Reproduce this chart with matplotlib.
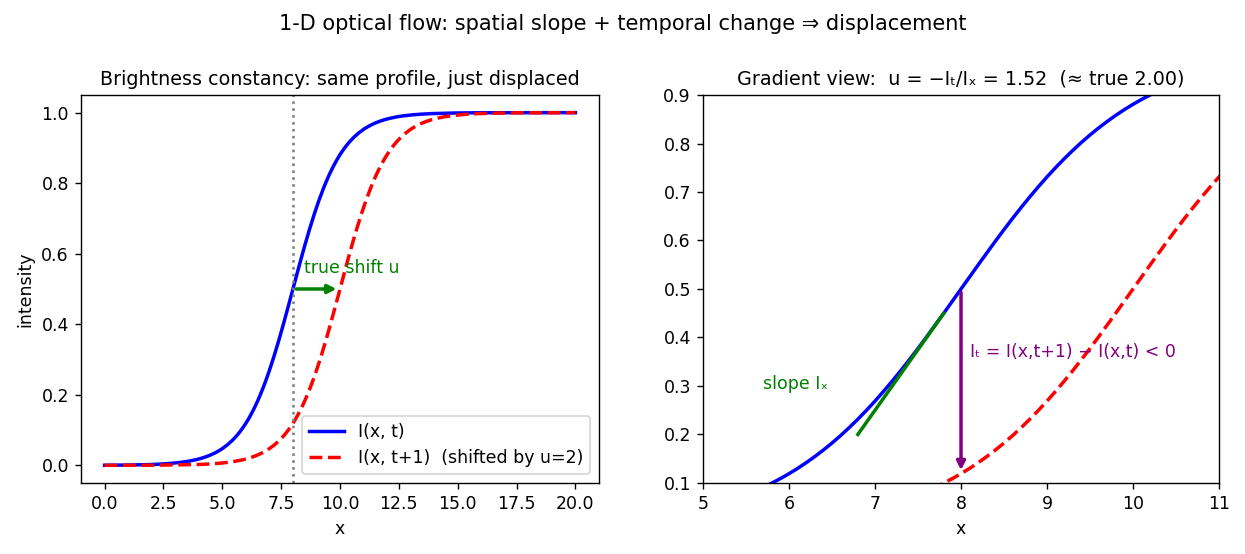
import matplotlib
matplotlib.use("Agg")
import matplotlib.pyplot as plt

# x grid (step 0.1 from 0 to 20)
x_vals = [round(i * 0.1, 1) for i in range(201)]

# I(x, t): intensity profile (half height at x = 8)
I_t = [
    0.0003, 0.0004, 0.0004, 0.0005, 0.0005, 0.0006, 0.0006, 0.0007, 0.0007, 0.0008,
    0.0009, 0.0010, 0.0011, 0.0012, 0.0014, 0.0015, 0.0017, 0.0018, 0.0020, 0.0022,
    0.0025, 0.0027, 0.0030, 0.0033, 0.0037, 0.0041, 0.0045, 0.0050, 0.0055, 0.0061,
    0.0067, 0.0074, 0.0082, 0.0090, 0.0100, 0.0110, 0.0121, 0.0134, 0.0148, 0.0163,
    0.0180, 0.0198, 0.0219, 0.0241, 0.0266, 0.0293, 0.0323, 0.0356, 0.0392, 0.0431,
    0.0474, 0.0522, 0.0573, 0.0630, 0.0691, 0.0759, 0.0832, 0.0911, 0.0998, 0.1091,
    0.1192, 0.1301, 0.1419, 0.1545, 0.1680, 0.1824, 0.1978, 0.2142, 0.2315, 0.2497,
    0.2689, 0.2891, 0.3100, 0.3318, 0.3543, 0.3775, 0.4013, 0.4256, 0.4502, 0.4750,
    0.5000, 0.5250, 0.5498, 0.5744, 0.5987, 0.6225, 0.6457, 0.6682, 0.6900, 0.7109,
    0.7311, 0.7503, 0.7685, 0.7858, 0.8022, 0.8176, 0.8320, 0.8455, 0.8581, 0.8699,
    0.8808, 0.8909, 0.9002, 0.9089, 0.9168, 0.9241, 0.9309, 0.9370, 0.9427, 0.9478,
    0.9526, 0.9569, 0.9608, 0.9644, 0.9677, 0.9707, 0.9734, 0.9759, 0.9781, 0.9802,
    0.9820, 0.9837, 0.9852, 0.9866, 0.9879, 0.9890, 0.9900, 0.9910, 0.9918, 0.9926,
    0.9933, 0.9939, 0.9945, 0.9950, 0.9955, 0.9959, 0.9963, 0.9967, 0.9970, 0.9973,
    0.9975, 0.9978, 0.9980, 0.9982, 0.9983, 0.9985, 0.9986, 0.9988, 0.9989, 0.9990,
    0.9991, 0.9992, 0.9993, 0.9993, 0.9994, 0.9994, 0.9995, 0.9995, 0.9996, 0.9996,
    0.9997, 0.9997, 0.9997, 0.9998, 0.9998, 0.9998, 0.9998, 0.9998, 0.9998, 0.9999,
    0.9999, 0.9999, 0.9999, 0.9999, 0.9999, 0.9999, 0.9999, 0.9999, 0.9999, 0.9999,
    1.0000, 1.0000, 1.0000, 1.0000, 1.0000, 1.0000, 1.0000, 1.0000, 1.0000, 1.0000,
    1.0000, 1.0000, 1.0000, 1.0000, 1.0000, 1.0000, 1.0000, 1.0000, 1.0000, 1.0000,
    1.0000,
]

# I(x, t+1): same profile displaced by u = 2 (half height at x = 10)
I_t1 = [
    0.0000, 0.0001, 0.0001, 0.0001, 0.0001, 0.0001, 0.0001, 0.0001, 0.0001, 0.0001,
    0.0001, 0.0001, 0.0002, 0.0002, 0.0002, 0.0002, 0.0002, 0.0002, 0.0003, 0.0003,
    0.0003, 0.0004, 0.0004, 0.0005, 0.0005, 0.0006, 0.0006, 0.0007, 0.0007, 0.0008,
    0.0009, 0.0010, 0.0011, 0.0012, 0.0014, 0.0015, 0.0017, 0.0018, 0.0020, 0.0022,
    0.0025, 0.0027, 0.0030, 0.0033, 0.0037, 0.0041, 0.0045, 0.0050, 0.0055, 0.0061,
    0.0067, 0.0074, 0.0082, 0.0090, 0.0100, 0.0110, 0.0121, 0.0134, 0.0148, 0.0163,
    0.0180, 0.0198, 0.0219, 0.0241, 0.0266, 0.0293, 0.0323, 0.0356, 0.0392, 0.0431,
    0.0474, 0.0522, 0.0573, 0.0630, 0.0691, 0.0759, 0.0832, 0.0911, 0.0998, 0.1091,
    0.1192, 0.1301, 0.1419, 0.1545, 0.1680, 0.1824, 0.1978, 0.2142, 0.2315, 0.2497,
    0.2689, 0.2891, 0.3100, 0.3318, 0.3543, 0.3775, 0.4013, 0.4256, 0.4502, 0.4750,
    0.5000, 0.5250, 0.5498, 0.5744, 0.5987, 0.6225, 0.6457, 0.6682, 0.6900, 0.7109,
    0.7311, 0.7503, 0.7685, 0.7858, 0.8022, 0.8176, 0.8320, 0.8455, 0.8581, 0.8699,
    0.8808, 0.8909, 0.9002, 0.9089, 0.9168, 0.9241, 0.9309, 0.9370, 0.9427, 0.9478,
    0.9526, 0.9569, 0.9608, 0.9644, 0.9677, 0.9707, 0.9734, 0.9759, 0.9781, 0.9802,
    0.9820, 0.9837, 0.9852, 0.9866, 0.9879, 0.9890, 0.9900, 0.9910, 0.9918, 0.9926,
    0.9933, 0.9939, 0.9945, 0.9950, 0.9955, 0.9959, 0.9963, 0.9967, 0.9970, 0.9973,
    0.9975, 0.9978, 0.9980, 0.9982, 0.9983, 0.9985, 0.9986, 0.9988, 0.9989, 0.9990,
    0.9991, 0.9992, 0.9993, 0.9993, 0.9994, 0.9994, 0.9995, 0.9995, 0.9996, 0.9996,
    0.9997, 0.9997, 0.9997, 0.9998, 0.9998, 0.9998, 0.9998, 0.9998, 0.9998, 0.9999,
    0.9999, 0.9999, 0.9999, 0.9999, 0.9999, 0.9999, 0.9999, 0.9999, 0.9999, 0.9999,
    1.0000,
]

x0 = 8.0           # probe location
u_true = 2.0
I_at_x0 = 0.5      # I(x0, t)
I1_at_x0 = 0.1192  # I(x0, t+1)
Ix = 0.25          # spatial slope at x0
tangent_x = [6.8, 7.8]
tangent_y = [0.20, 0.45]
u_est = -(I1_at_x0 - I_at_x0) / Ix

fig = plt.figure(figsize=(9.96, 4.432), dpi=125)
ax1 = fig.add_axes([0.0651, 0.1282, 0.4160, 0.7003])
ax2 = fig.add_axes([0.5647, 0.1282, 0.4144, 0.7003])

fig.suptitle("1-D optical flow: spatial slope + temporal change \u21d2 displacement",
             fontsize=12, y=0.975)

# Left panel
ax1.plot(x_vals, I_t, color="blue", lw=2, label="I(x, t)")
ax1.plot(x_vals, I_t1, color="red", lw=2, ls="--",
         label="I(x, t+1)  (shifted by u=2)")
ax1.axvline(x0, color="gray", ls=":", lw=1.5)
ax1.annotate("", xy=(x0 + u_true, I_at_x0), xytext=(x0, I_at_x0),
             arrowprops=dict(arrowstyle="-|>", color="green", lw=2))
ax1.text(x0 + 0.45, I_at_x0 + 0.035, "true shift u", color="green", fontsize=10,
         va="bottom")
ax1.set_title("Brightness constancy: same profile, just displaced", fontsize=11)
ax1.set_xlabel("x")
ax1.set_ylabel("intensity")
ax1.legend(loc="lower right")

# Right panel
ax2.plot(x_vals, I_t, color="blue", lw=2)
ax2.plot(x_vals, I_t1, color="red", lw=2, ls="--")
ax2.plot(tangent_x, tangent_y, color="green", lw=2)
ax2.annotate("", xy=(x0, I1_at_x0), xytext=(x0, I_at_x0),
             arrowprops=dict(arrowstyle="-|>", color="purple", lw=2))
ax2.text(x0 + 0.1, 0.37, "I\u209c = I(x,t+1) \u2212 I(x,t) < 0", color="purple",
         fontsize=10, va="center")
ax2.text(5.7, 0.305, "slope I\u2093", color="green", fontsize=10, va="center")
ax2.set_xlim(5, 11)
ax2.set_ylim(0.1, 0.9)
ax2.set_title(f"Gradient view:  u = \u2212I\u209c/I\u2093 = {u_est:.2f}  (\u2248 true {u_true:.2f})",
              fontsize=11)
ax2.set_xlabel("x")

fig.savefig("out.png", dpi=125)
